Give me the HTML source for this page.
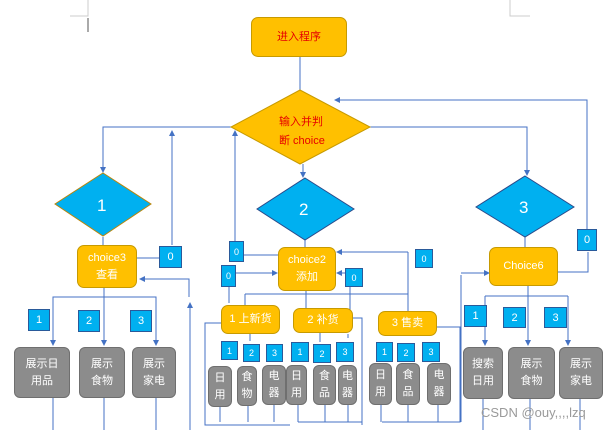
<!DOCTYPE html>
<html><head><meta charset="utf-8"><style>
body{margin:0;width:605px;height:430px;background:#fff;position:relative;overflow:hidden;font-family:"Liberation Sans","Noto Sans CJK SC",sans-serif}
.b{position:absolute;box-sizing:border-box;display:flex;align-items:center;justify-content:center;text-align:center}
.o{background:#ffc000;border:1px solid #c79a00;border-radius:7px;color:#fff;font-size:11px;line-height:17px}
.n{background:#00b0f0;border:1px solid #2a5a9a;color:#fff;font-size:11px}
.g{background:#8c8c8c;border:1px solid #6f6f6f;border-radius:6px;color:#fff;font-size:11px;line-height:17px}
.t{position:absolute;font-size:12px}
</style></head><body>
<svg width="605" height="430" style="position:absolute;left:0;top:0">
<defs><marker id="a" markerWidth="6" markerHeight="6" refX="5" refY="3" orient="auto"><path d="M0,0L6,3L0,6z" fill="#4472c4"/></marker></defs>
<path d="M88 0V16H70M510 0V16H530" stroke="#ccc" fill="none"/>
<path d="M88 18V32" stroke="#555" fill="none"/>
<g stroke="#4472c4" stroke-width="1" fill="none">
<path d="M300 56V90"/>
<path d="M231 127H103V172" marker-end="url(#a)"/>
<path d="M370 127H527V175" marker-end="url(#a)"/>
<path d="M303 164V177" marker-end="url(#a)"/>
<path d="M587 232V100H335" marker-end="url(#a)"/>
<path d="M172 245V131" marker-end="url(#a)"/>
<path d="M235 241V131" marker-end="url(#a)"/>
<path d="M103 237V245M305 240V247M525 237V247"/>
<path d="M137 258H160M182 258H172"/>
<path d="M189 297V279H140" marker-end="url(#a)"/>
<path d="M190 430V303" marker-end="url(#a)"/>
<path d="M104 288V297H53V345" marker-end="url(#a)"/>
<path d="M104 297V345" marker-end="url(#a)"/><path d="M104 297H156V345" marker-end="url(#a)"/>
<path d="M53 398V430M104 398V430M156 398V430"/>
<path d="M244 255H278M236 273H277" marker-end="url(#a)"/>
<path d="M229 287V303M245 294V305M245 294H408M306 291V308M350 294V311"/>
<path d="M408 252V311M408 252H337" marker-end="url(#a)"/>
<path d="M350 287V294"/>
<path d="M350 273H337" marker-end="url(#a)"/>
<path d="M250 334V341M320 333V342M348 334V338"/>
<path d="M221 323H205V425H290M220 405V422M248 406V422M274 405V422"/>
<path d="M353 318H362V425M298 405V422M325 405V422M348 405V422M298 422H362"/>
<path d="M437 327H460V422H382M381 405V422M408 405V422M438 405V422"/>
<path d="M461 422V275M461 273H489" marker-end="url(#a)"/>
<path d="M558 272H588V252"/>
<path d="M528 286V296M485 296H568"/>
<path d="M485 296V345" marker-end="url(#a)"/><path d="M528 296V345" marker-end="url(#a)"/><path d="M568 296V345" marker-end="url(#a)"/>
<path d="M483 399V430M530 399V430M580 399V430"/>
</g>
<polygon points="300,90 370,127 300,164 231,127" fill="#ffc000" stroke="#c79a00"/>
<polygon points="103,173 151,204 103,236 55,204" fill="#00b0f0" stroke="#b8860b"/>
<polygon points="305,178 354,209 305,240 257,209" fill="#00b0f0" stroke="#2a4a8a"/>
<polygon points="525,176 574,207 525,237 476,207" fill="#00b0f0" stroke="#2a4a8a"/>
</svg>
<div class="b o" style="left:251px;top:17px;width:96px;height:40px;color:#e60000">进入程序</div>
<div class="t" style="left:279px;top:113px;color:#e60000;font-size:11px;line-height:19px">输入并判<br>断 choice</div>
<div class="t" style="left:97px;top:196px;color:#fff;font-size:17px">1</div>
<div class="t" style="left:299px;top:200px;color:#fff;font-size:17px">2</div>
<div class="t" style="left:519px;top:198px;color:#fff;font-size:17px">3</div>
<div class="b o" style="left:77px;top:245px;width:60px;height:43px">choice3<br>查看</div>
<div class="b o" style="left:278px;top:247px;width:58px;height:44px">choice2<br>添加</div>
<div class="b o" style="left:489px;top:247px;width:69px;height:39px">Choice6</div>
<div class="b o" style="left:221px;top:305px;width:59px;height:29px">1 上新货</div>
<div class="b o" style="left:293px;top:308px;width:60px;height:25px">2 补货</div>
<div class="b o" style="left:378px;top:311px;width:59px;height:25px">3 售卖</div>
<div class="b n" style="left:159px;top:246px;width:23px;height:22px">0</div>
<div class="b n" style="left:229px;top:241px;width:15px;height:21px;font-size:9px">0</div>
<div class="b n" style="left:221px;top:265px;width:15px;height:22px;font-size:9px">0</div>
<div class="b n" style="left:345px;top:268px;width:18px;height:19px;font-size:9px">0</div>
<div class="b n" style="left:415px;top:249px;width:18px;height:19px;font-size:9px">0</div>
<div class="b n" style="left:577px;top:229px;width:20px;height:22px">0</div>
<div class="b n" style="left:28px;top:309px;width:22px;height:22px">1</div>
<div class="b n" style="left:78px;top:310px;width:22px;height:22px">2</div>
<div class="b n" style="left:130px;top:310px;width:22px;height:22px">3</div>
<div class="b n" style="left:221px;top:341px;width:17px;height:19px;font-size:9px">1</div>
<div class="b n" style="left:243px;top:344px;width:17px;height:18px;font-size:9px">2</div>
<div class="b n" style="left:266px;top:344px;width:17px;height:18px;font-size:9px">3</div>
<div class="b n" style="left:291px;top:342px;width:18px;height:20px;font-size:9px">1</div>
<div class="b n" style="left:313px;top:344px;width:18px;height:19px;font-size:9px">2</div>
<div class="b n" style="left:336px;top:342px;width:18px;height:20px;font-size:9px">3</div>
<div class="b n" style="left:376px;top:342px;width:17px;height:20px;font-size:9px">1</div>
<div class="b n" style="left:397px;top:343px;width:18px;height:19px;font-size:9px">2</div>
<div class="b n" style="left:422px;top:342px;width:18px;height:20px;font-size:9px">3</div>
<div class="b n" style="left:464px;top:305px;width:23px;height:22px">1</div>
<div class="b n" style="left:503px;top:307px;width:23px;height:21px">2</div>
<div class="b n" style="left:544px;top:307px;width:23px;height:21px">3</div>
<div class="b g" style="left:14px;top:347px;width:56px;height:51px">展示日<br>用品</div>
<div class="b g" style="left:79px;top:347px;width:46px;height:51px">展示<br>食物</div>
<div class="b g" style="left:132px;top:347px;width:44px;height:51px">展示<br>家电</div>
<div class="b g" style="left:208px;top:366px;width:24px;height:41px">日<br>用</div>
<div class="b g" style="left:237px;top:366px;width:20px;height:40px">食<br>物</div>
<div class="b g" style="left:262px;top:365px;width:24px;height:40px">电<br>器</div>
<div class="b g" style="left:286px;top:365px;width:21px;height:40px">日<br>用</div>
<div class="b g" style="left:313px;top:365px;width:23px;height:40px">食<br>品</div>
<div class="b g" style="left:338px;top:365px;width:19px;height:40px">电<br>器</div>
<div class="b g" style="left:369px;top:363px;width:23px;height:42px">日<br>用</div>
<div class="b g" style="left:396px;top:363px;width:24px;height:42px">食<br>品</div>
<div class="b g" style="left:427px;top:363px;width:24px;height:42px">电<br>器</div>
<div class="b g" style="left:463px;top:347px;width:40px;height:52px">搜索<br>日用</div>
<div class="b g" style="left:508px;top:347px;width:47px;height:52px">展示<br>食物</div>
<div class="b g" style="left:559px;top:347px;width:44px;height:52px">展示<br>家电</div>
<div class="t" style="left:481px;top:405px;color:#9a9a9a;font-size:13px">CSDN @ouy,,,,lzq</div>
</body></html>
